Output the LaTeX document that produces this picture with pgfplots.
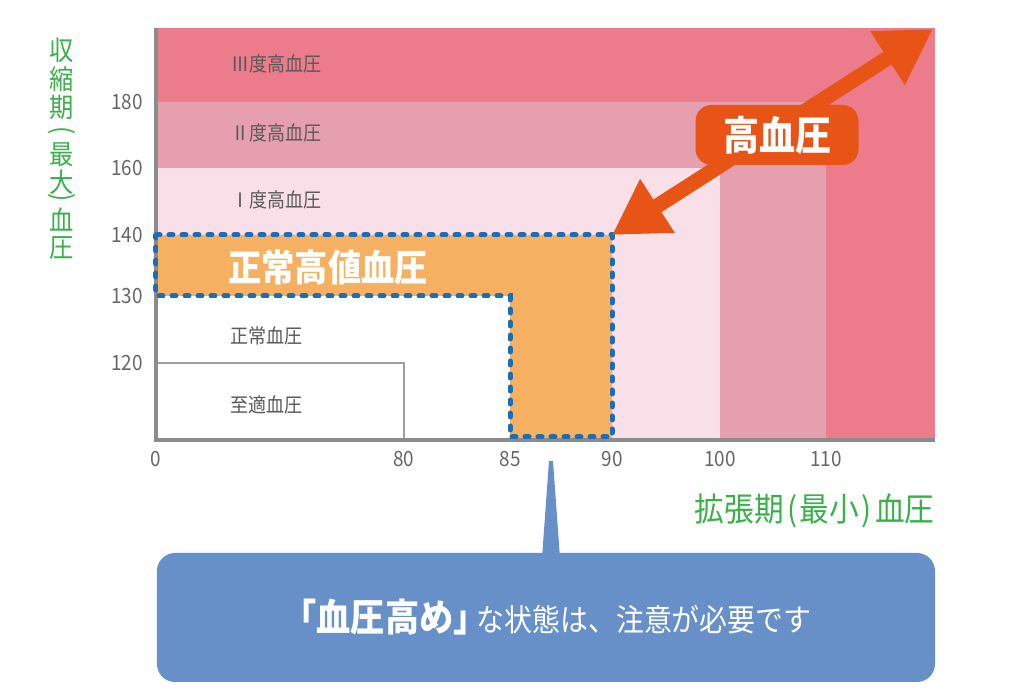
\documentclass[border=0pt]{standalone}
\usepackage{fontspec}
\setmainfont{Noto Sans CJK JP}[FakeStretch=0.9]
\usepackage{pgfplots}
\pgfplotsset{compat=1.18}
\usetikzlibrary{arrows.meta}
\definecolor{cIII}{HTML}{EC7B8B}
\definecolor{cII}{HTML}{E59FAF}
\definecolor{cI}{HTML}{F9E0E8}
\definecolor{cHigh}{HTML}{F5B161}
\definecolor{arrowor}{HTML}{E85416}
\definecolor{dotblue}{HTML}{1B6DB6}
\definecolor{callblue}{HTML}{6790C9}
\definecolor{lblgreen}{HTML}{39B04A}
\definecolor{axgray}{HTML}{8C8C8C}
\definecolor{tickgray}{HTML}{666666}
\definecolor{txtgray}{HTML}{595959}
\begin{document}
\begin{tikzpicture}
\begin{axis}[
  at={(0,0)}, anchor=south west,
  scale only axis, width=389.5pt, height=206pt,
  xmin=0, xmax=779, ymin=0, ymax=412,
  clip=false,
  axis lines=left,
  axis line style={draw=none},
  major tick length=0pt,
  tick style={draw=none},
  xtick={0,248,354,456,564,670},
  xticklabels={0,80,85,90,100,110},
  ytick={77,144,205,272,338},
  yticklabels={120,130,140,160,180},
  ticklabel style={font=\fontsize{10.5}{10.5}\selectfont, text=tickgray},
  yticklabel style={xshift=-3pt},
  xticklabel style={yshift=-2pt},
  ylabel style={inner sep=0pt},
]
% Classification regions (display positions of the thresholds)
\addplot[fill=cIII, draw=none] coordinates {(0,412) (779,412)} \closedcycle;
\addplot[fill=cII, draw=none] coordinates {(0,338) (670,338)} \closedcycle;
\addplot[fill=cI, draw=none] coordinates {(0,272) (564,272)} \closedcycle;
\addplot[fill=cHigh, draw=none] coordinates {(0,205) (456,205)} \closedcycle;
\addplot[fill=white, draw=none] coordinates {(0,144) (354,144)} \closedcycle;
\addplot[draw=gray!75, line width=0.7pt] coordinates {(0,77) (248,77) (248,0)};

% axis lines
\draw[axgray, line width=2pt] (axis cs:0,412) -- (axis cs:0,0) -- (axis cs:779,0);

% dotted boundary of high-normal
\addplot[draw=dotblue, line width=2.5pt, line cap=round, dash pattern=on 2pt off 4.5pt]
  coordinates {(0,205) (456,205) (456,3) (354,3) (354,144) (0,144) (0,205)};

% region labels
\node[text=txtgray, font=\fontsize{10}{10}\selectfont] at (axis cs:121,376) {Ⅲ度高血圧};
\node[text=txtgray, font=\fontsize{10}{10}\selectfont] at (axis cs:121,307) {Ⅱ度高血圧};
\node[text=txtgray, font=\fontsize{10}{10}\selectfont] at (axis cs:121,240) {Ⅰ度高血圧};
\node[text=white, font=\bfseries\fontsize{18.5}{18.5}\selectfont, anchor=west, inner sep=0pt] at (axis cs:72,173) {正常高値血圧};
\node[text=txtgray, font=\fontsize{10}{10}\selectfont] at (axis cs:111,104) {正常血圧};
\node[text=txtgray, font=\fontsize{10}{10}\selectfont] at (axis cs:111,35) {至適血圧};

% hypertension arrow
\draw[arrowor, line width=7.5pt, {Triangle[length=27pt,width=30pt]}-{Triangle[length=27pt,width=30pt]}]
  (axis cs:456,205) -- (axis cs:777,411);
\node[fill=arrowor, rounded corners=8pt, minimum width=81.5pt, minimum height=30pt,
  text=white, font=\bfseries\fontsize{20}{20}\selectfont] at (axis cs:621,305) {高血圧};

% axis titles
\node[anchor=east, text=lblgreen, font=\fontsize{16.5}{16.5}\selectfont, inner sep=0pt] at (axis cs:779,-71)
  {拡張期\hspace{2pt}(\hspace{1pt}最小\hspace{1pt})\hspace{2pt}血圧};
\begin{scope}[every node/.style={text=lblgreen, font=\fontsize{13.5}{13.5}\selectfont, inner sep=0pt}]
\node at (axis cs:-94,390) {収};
\node at (axis cs:-94,361) {縮};
\node at (axis cs:-94,333) {期};
\node[rotate=-90] at (axis cs:-94,309) {(};
\node at (axis cs:-94,285) {最};
\node at (axis cs:-94,258) {大};
\node[rotate=-90] at (axis cs:-94,242) {)};
\node at (axis cs:-94,220) {血};
\node at (axis cs:-94,192) {圧};
\end{scope}

% callout
\fill[callblue, rounded corners=9pt] (axis cs:1,-113) rectangle (axis cs:779,-242);
\fill[callblue] (axis cs:386,-118) -- (axis cs:393,-21) -- (axis cs:397,-21) -- (axis cs:404,-118) -- cycle;
\node[text=white] at (axis cs:391,-177)
  {{\bfseries\fontsize{19}{19}\selectfont 「血圧高め」}\hspace{-0.55em}{\fontsize{15.5}{15.5}\selectfont な状態は、注意が必要です}};

\coordinate (BL) at (axis cs:-156,-260);
\coordinate (TR) at (axis cs:868,440);
\end{axis}
\pgfresetboundingbox
\path[use as bounding box] (BL) rectangle (TR);
\end{tikzpicture}
\end{document}
